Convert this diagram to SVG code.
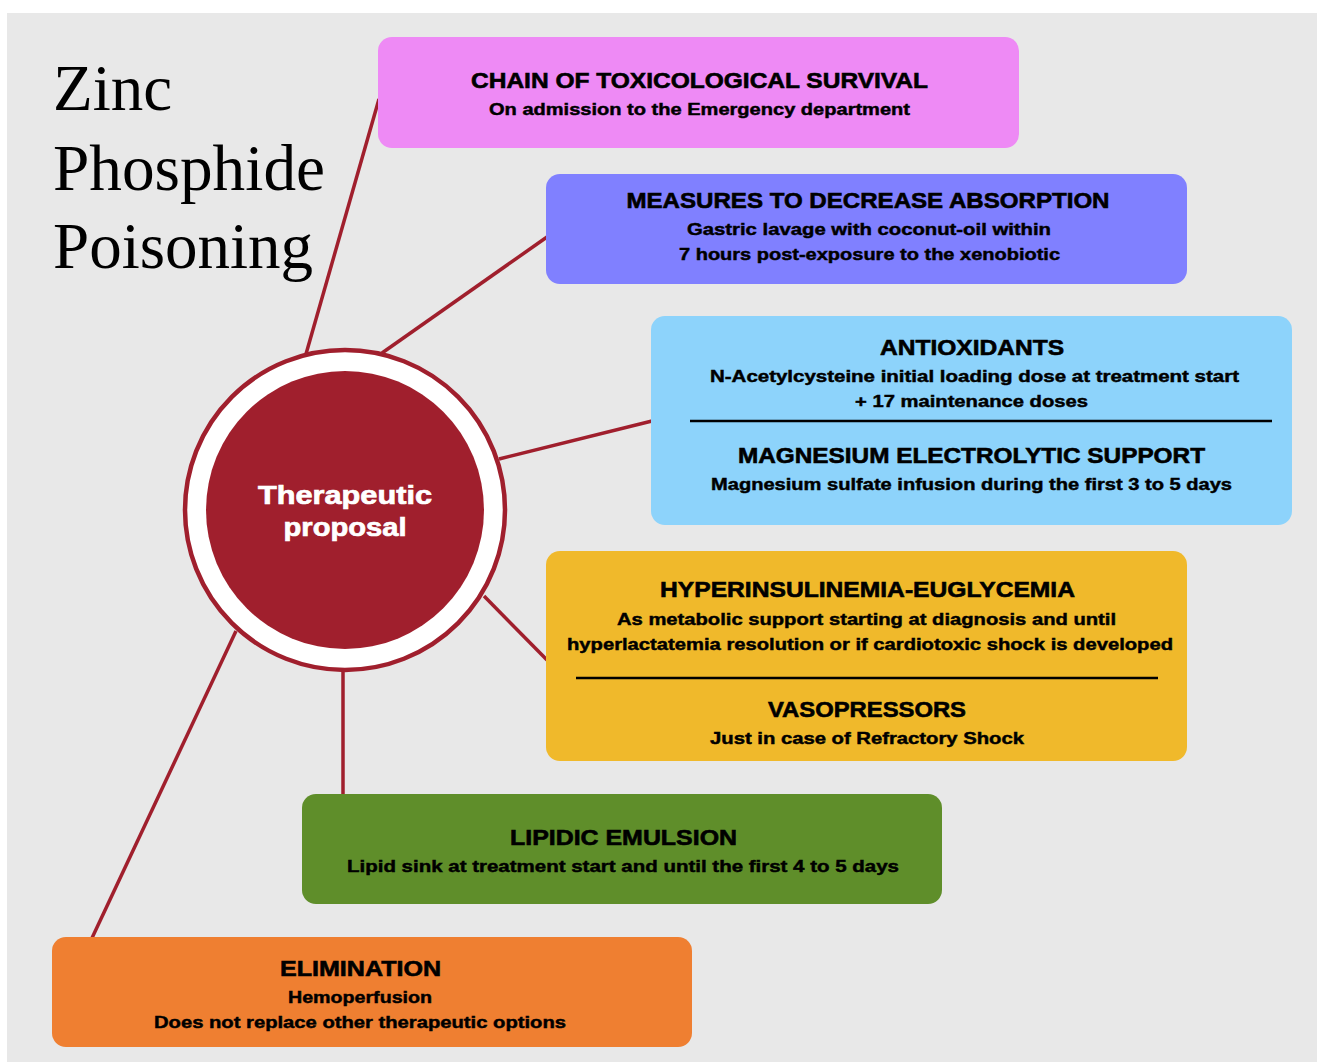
<svg xmlns="http://www.w3.org/2000/svg" width="1317" height="1062" viewBox="0 0 1317 1062">
<style>
.title{font-family:"Liberation Serif","Times New Roman",serif;font-size:65px;fill:#000}
.h{font-family:"Liberation Sans",Arial,sans-serif;font-weight:bold;font-size:22px;fill:#000;stroke:#000;stroke-width:0.6;text-anchor:middle}
.s{font-family:"Liberation Sans",Arial,sans-serif;font-weight:bold;font-size:16.5px;fill:#000;stroke:#000;stroke-width:0.45;text-anchor:middle}
.c{font-family:"Liberation Sans",Arial,sans-serif;font-weight:bold;font-size:26px;fill:#fff;stroke:#fff;stroke-width:0.7;text-anchor:middle}
.con{stroke:#a01f2d;stroke-width:3.5;fill:none}
.sep{stroke:#000;stroke-width:2.5}
</style>
<rect x="0" y="0" width="1317" height="1062" fill="#fff"/>
<rect x="7" y="13" width="1310" height="1049" fill="#e8e8e8"/>
<g id="title">
<text class="title" x="53" y="110">Zinc</text>
<text class="title" x="53" y="190" textLength="272" lengthAdjust="spacingAndGlyphs">Phosphide</text>
<text class="title" x="53" y="268">Poisoning</text>
</g>
<g id="connectors">
<line class="con" x1="306" y1="354" x2="379" y2="99"/>
<line class="con" x1="382" y1="353" x2="547" y2="237"/>
<line class="con" x1="499" y1="459" x2="652" y2="421"/>
<line class="con" x1="484" y1="596" x2="547" y2="660"/>
<line class="con" x1="343" y1="671" x2="343" y2="795"/>
<line class="con" x1="236" y1="631" x2="92" y2="938"/>
</g>
<g id="center">
<circle cx="345" cy="510" r="160" fill="#fff" stroke="#a01f2d" stroke-width="4.5"/>
<circle cx="345" cy="510" r="139" fill="#a01f2d"/>
<text class="c" x="345" y="504" textLength="174" lengthAdjust="spacingAndGlyphs">Therapeutic</text>
<text class="c" x="345" y="536" textLength="123" lengthAdjust="spacingAndGlyphs">proposal</text>
</g>
<g id="chain">
<rect x="378" y="37" width="641" height="111" rx="14" fill="#ee8af5"/>
<text class="h" x="699.5" y="88" textLength="457" lengthAdjust="spacingAndGlyphs">CHAIN OF TOXICOLOGICAL SURVIVAL</text>
<text class="s" x="699.5" y="115" textLength="421" lengthAdjust="spacingAndGlyphs">On admission to the Emergency department</text>
</g>
<g id="absorption">
<rect x="546" y="174" width="641" height="110" rx="14" fill="#8080ff"/>
<text class="h" x="868" y="208" textLength="483" lengthAdjust="spacingAndGlyphs">MEASURES TO DECREASE ABSORPTION</text>
<text class="s" x="869" y="235" textLength="364" lengthAdjust="spacingAndGlyphs">Gastric lavage with coconut-oil within</text>
<text class="s" x="869.5" y="260" textLength="381" lengthAdjust="spacingAndGlyphs">7 hours post-exposure to the xenobiotic</text>
</g>
<g id="antioxidants">
<rect x="651" y="316" width="641" height="209" rx="14" fill="#8dd3fb"/>
<text class="h" x="972" y="355" textLength="184" lengthAdjust="spacingAndGlyphs">ANTIOXIDANTS</text>
<text class="s" x="974.5" y="382" textLength="529" lengthAdjust="spacingAndGlyphs">N-Acetylcysteine initial loading dose at treatment start</text>
<text class="s" x="971.5" y="407" textLength="233" lengthAdjust="spacingAndGlyphs">+ 17 maintenance doses</text>
<line class="sep" x1="690" y1="421" x2="1272" y2="421"/>
<text class="h" x="971.5" y="463" textLength="467" lengthAdjust="spacingAndGlyphs">MAGNESIUM ELECTROLYTIC SUPPORT</text>
<text class="s" x="971.5" y="490" textLength="521" lengthAdjust="spacingAndGlyphs">Magnesium sulfate infusion during the first 3 to 5 days</text>
</g>
<g id="hyperinsulinemia">
<rect x="546" y="551" width="641" height="210" rx="14" fill="#f0b92b"/>
<text class="h" x="867.5" y="597" textLength="415" lengthAdjust="spacingAndGlyphs">HYPERINSULINEMIA-EUGLYCEMIA</text>
<text class="s" x="866.5" y="625" textLength="499" lengthAdjust="spacingAndGlyphs">As metabolic support starting at diagnosis and until</text>
<text class="s" x="870" y="650" textLength="606" lengthAdjust="spacingAndGlyphs">hyperlactatemia resolution or if cardiotoxic shock is developed</text>
<line class="sep" x1="576" y1="678" x2="1158" y2="678"/>
<text class="h" x="867" y="717" textLength="198" lengthAdjust="spacingAndGlyphs">VASOPRESSORS</text>
<text class="s" x="867" y="744" textLength="314" lengthAdjust="spacingAndGlyphs">Just in case of Refractory Shock</text>
</g>
<g id="lipidic">
<rect x="302" y="794" width="640" height="110" rx="14" fill="#5f8e2a"/>
<text class="h" x="623.5" y="845" textLength="227" lengthAdjust="spacingAndGlyphs">LIPIDIC EMULSION</text>
<text class="s" x="623" y="872" textLength="552" lengthAdjust="spacingAndGlyphs">Lipid sink at treatment start and until the first 4 to 5 days</text>
</g>
<g id="elimination">
<rect x="52" y="937" width="640" height="110" rx="14" fill="#ef7f31"/>
<text class="h" x="360.5" y="976" textLength="161" lengthAdjust="spacingAndGlyphs">ELIMINATION</text>
<text class="s" x="360" y="1003" textLength="144" lengthAdjust="spacingAndGlyphs">Hemoperfusion</text>
<text class="s" x="360" y="1028" textLength="412" lengthAdjust="spacingAndGlyphs">Does not replace other therapeutic options</text>
</g>
</svg>
